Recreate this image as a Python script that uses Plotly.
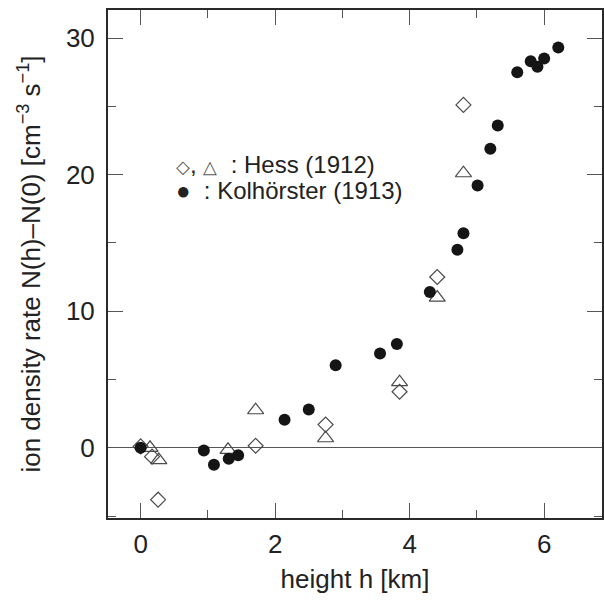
import plotly.graph_objects as go

# Hess (1912) - diamonds
hess_diamond_h = [0.0, 0.17, 0.26, 1.71, 2.75, 3.85, 4.41, 4.80]
hess_diamond_n = [0.1, -0.65, -3.8, 0.15, 1.7, 4.1, 12.5, 25.1]
# Hess (1912) - triangles
hess_triangle_h = [0.14, 0.27, 1.30, 1.71, 2.75, 3.85, 4.41, 4.80]
hess_triangle_n = [0.0, -0.9, -0.15, 2.75, 0.7, 4.8, 11.0, 20.1]
# Kolhörster (1913) - filled circles
kolh_h = [0.0, 0.94, 1.09, 1.31, 1.45, 2.14, 2.50, 2.90, 3.56, 3.81, 4.30,
          4.71, 4.80, 5.01, 5.20, 5.31, 5.60, 5.80, 5.90, 6.00, 6.21]
kolh_n = [0.0, -0.2, -1.25, -0.8, -0.55, 2.05, 2.8, 6.05, 6.9, 7.6, 11.4,
          14.5, 15.7, 19.2, 21.9, 23.6, 27.5, 28.3, 27.9, 28.5, 29.3]

x_ticks = [0, 2, 4, 6]
y_ticks = [0, 10, 20, 30]

FONT = "Liberation Sans, Arial, sans-serif"
AX = "#2a2a2a"

fig = go.Figure()
fig.add_trace(go.Scatter(
    x=hess_diamond_h, y=hess_diamond_n, mode="markers",
    marker=dict(symbol="diamond-open", size=11.5, color="#4a4a4a",
                line=dict(width=1.2, color="#4a4a4a")),
    showlegend=False))
fig.add_trace(go.Scatter(
    x=hess_triangle_h, y=hess_triangle_n, mode="markers",
    marker=dict(symbol="triangle-up-open", size=14, color="#4a4a4a",
                line=dict(width=1.2, color="#4a4a4a")),
    showlegend=False))
fig.add_trace(go.Scatter(
    x=kolh_h, y=kolh_n, mode="markers",
    marker=dict(symbol="circle", size=12, color="#151515",
                line=dict(width=0)),
    showlegend=False))

sym = "<span style='font-size:18px;fill:#555'>{}</span>"
fig.add_annotation(
    x=0.50, y=20.75, xref="x", yref="y", xanchor="left", yanchor="middle",
    showarrow=False,
    text=sym.format("◇") + "," + "\u00a0" + sym.format("△") + "\u00a0\u00a0: Hess (1912)",
    font=dict(family=FONT, size=24, color="#222"))
fig.add_annotation(
    x=0.50, y=18.85, xref="x", yref="y", xanchor="left", yanchor="middle",
    showarrow=False,
    text="●\u00a0\u00a0: Kolhörster (1913)",
    font=dict(family=FONT, size=24, color="#222"))

fig.update_layout(
    width=604, height=601,
    margin=dict(l=108, r=0, t=10, b=83),
    paper_bgcolor="white", plot_bgcolor="white",
    font=dict(family=FONT, size=26, color="#222"),
    xaxis=dict(
        range=[-0.485, 6.86], tickvals=x_ticks, ticks="inside", ticklen=15,
        tickwidth=1.2, tickcolor="#555",
        minor=dict(dtick=1, tick0=0, ticks="inside", ticklen=8, tickwidth=1.2, tickcolor="#555"),
        showline=True, linecolor=AX, linewidth=2, mirror="allticks",
        showgrid=False, zeroline=False,
        ticklabelstandoff=2,
        title=dict(text="height h [km]", standoff=12,
                   font=dict(family=FONT, size=26, color="#222")),
    ),
    yaxis=dict(
        range=[-5.14, 32.05], tickvals=y_ticks, ticks="inside", ticklen=15,
        tickwidth=1.2, tickcolor="#555",
        minor=dict(dtick=5, tick0=0, ticks="inside", ticklen=8, tickwidth=1.2, tickcolor="#555"),
        showline=True, linecolor=AX, linewidth=2, mirror="allticks",
        showgrid=False, zeroline=True, zerolinecolor="#555", zerolinewidth=1.2,
        ticklabelstandoff=6,
        title=dict(text="ion density rate N(h)–N(0) [cm<sup>−3</sup> s<sup>−1</sup>]",
                   standoff=18, font=dict(family=FONT, size=26, color="#222")),
    ),
)

fig.write_html("out.html", config={"displayModeBar": False},
               post_script="document.body.style.margin='0';document.body.style.overflow='hidden';")
